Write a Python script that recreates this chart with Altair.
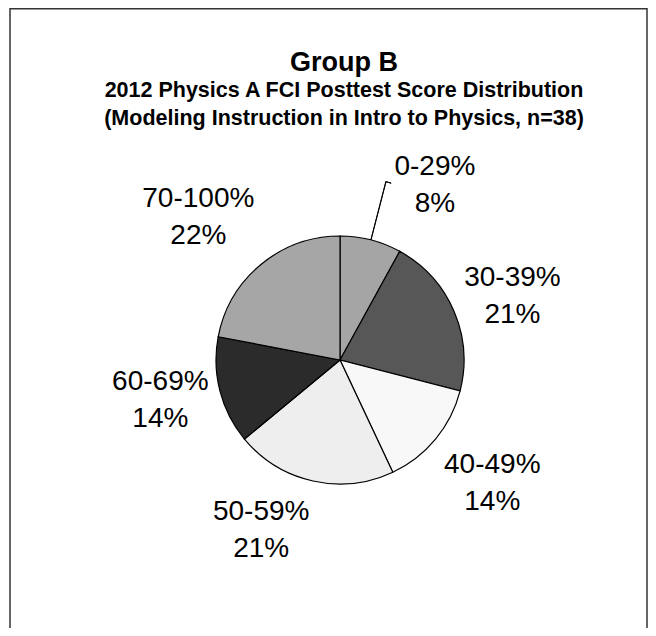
import altair as alt
import pandas as pd

# ---- data ----
categories = ["0-29%", "30-39%", "40-49%", "50-59%", "60-69%", "70-100%"]
percents = [8, 21, 14, 21, 14, 22]
pct_labels = ["8%", "21%", "14%", "21%", "14%", "22%"]

# ---- styles ----
colors = ["#a5a5a5", "#575757", "#f8f8f8", "#eeeeee", "#2b2b2b", "#a6a6a6"]
FONT = "Liberation Sans"
W, H = 640, 620
CX, CY = 332, 352          # pie centre inside the plot area
R = 124                    # pie radius
# label placement: (radius, angular nudge in radians)
label_place = {
    "0-29%": (199, 0.246),
    "30-39%": (184, 0.052),
    "40-49%": (196, -0.01),
    "50-59%": (187, 0.215),
    "60-69%": (184, 0.033),
    "70-100%": (201, -0.091),
}

df = pd.DataFrame({
    "range": categories,
    "pct": percents,
    "pct_label": pct_labels,
    "order": list(range(len(categories))),
})
df["label"] = df["range"] + "\n" + df["pct_label"]

base = (
    alt.Chart(df)
    .transform_joinaggregate(total="sum(pct)")
    .transform_window(cum="sum(pct)", sort=[alt.SortField("order")], frame=[None, 0])
    .transform_calculate(mid="(datum.cum - datum.pct / 2) / datum.total * 2 * PI")
)

pie = alt.Chart(df).mark_arc(outerRadius=R, stroke="black", strokeWidth=1.2).encode(
    theta=alt.Theta("pct:Q", stack=True),
    color=alt.Color("range:N", scale=alt.Scale(domain=categories, range=colors), legend=None),
    order=alt.Order("order:Q"),
    x=alt.value(CX),
    y=alt.value(CY),
)

layers = [pie]

for cat in categories:
    r, nudge = label_place[cat]
    layers.append(
        base.transform_filter(alt.datum.range == cat)
        .transform_calculate(t=f"datum.mid + ({nudge})")
        .mark_text(radius=r, fontSize=28, font=FONT, lineBreak="\n", lineHeight=37,
                   align="center", baseline="middle", color="black", dy=-18)
        .encode(theta=alt.Theta("t:Q", scale=None), text="label:N",
                x=alt.value(CX), y=alt.value(CY))
    )

# leader line for the small 0-29% slice (radial segment + tiny tick)
leader = (
    base.transform_filter(alt.datum.range == categories[0])
    .transform_calculate(t2="datum.mid + 0.0015")
    .mark_arc(innerRadius=R, outerRadius=184, fillOpacity=0, stroke="black", strokeWidth=1)
    .encode(theta=alt.Theta("mid:Q", scale=None), theta2="t2:Q",
            x=alt.value(CX), y=alt.value(CY))
)
tick = (
    base.transform_filter(alt.datum.range == categories[0])
    .transform_calculate(t2="datum.mid + 0.03")
    .mark_arc(innerRadius=184, outerRadius=184.2, fillOpacity=0, stroke="black", strokeWidth=1)
    .encode(theta=alt.Theta("mid:Q", scale=None), theta2="t2:Q",
            x=alt.value(CX), y=alt.value(CY))
)
layers += [leader, tick]

frame = alt.Chart(pd.DataFrame({"f": [0]})).mark_rect(
    fillOpacity=0, stroke="#333333", strokeWidth=1.5
).encode(x=alt.value(2), x2=alt.value(639), y=alt.value(0.75), y2=alt.value(H + 40))

chart = (
    alt.layer(frame, *layers)
    .properties(
        width=W,
        height=H,
        autosize=alt.AutoSizeParams(type="none"),
        padding=0,
        background="white",
        title=alt.TitleParams(
            text="Group B",
            subtitle=["2012 Physics A FCI Posttest Score Distribution",
                      "(Modeling Instruction in Intro to Physics, n=38)"],
            font=FONT, fontSize=27, fontWeight="bold", color="black",
            subtitleFont=FONT, subtitleFontSize=21.5, subtitleFontWeight="bold",
            subtitleColor="black", subtitleLineHeight=28, subtitlePadding=3,
            anchor="middle", dx=16, dy=122, offset=0,
        ),
    )
    .configure_view(stroke=None)
)

chart.save("out.html", embed_options={"renderer": "svg", "actions": False})
